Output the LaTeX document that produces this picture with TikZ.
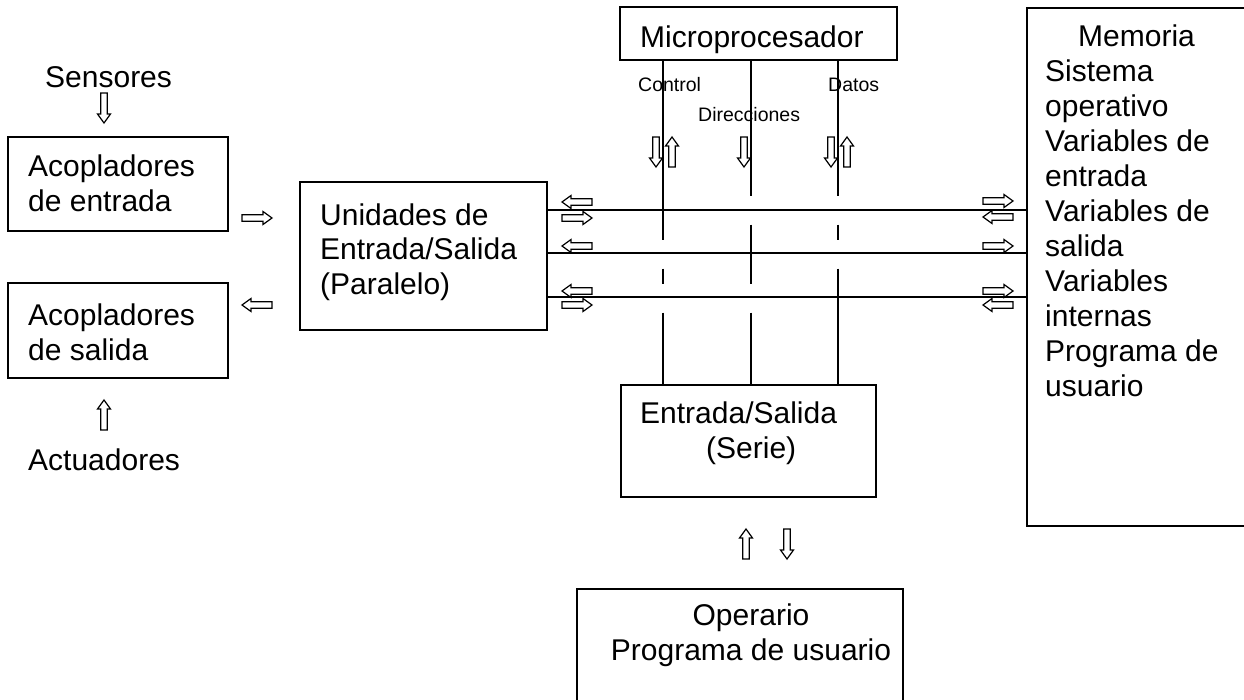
\documentclass[tikz,border=0pt]{standalone}
\usepackage{fontspec}
\setmainfont{Liberation Sans}
\begin{document}
\begin{tikzpicture}[x=1pt,y=-1pt,
  box/.style={draw, line width=1.5pt, inner sep=0pt},
  txt/.style={inner sep=0pt, align=left, anchor=base west, font=\fontsize{30}{35}\selectfont},
  small/.style={inner sep=0pt, anchor=base west, font=\fontsize{19.5}{22}\selectfont},
  bus/.style={line width=1.5pt},
  hol/.style={draw, line width=1.2pt, line join=miter},
  aright/.pic={\draw[hol] (-15,-3.3) -- (6,-3.3) -- (6,-6.5) -- (15,0) -- (6,6.5) -- (6,3.3) -- (-15,3.3) -- cycle;},
  aleft/.pic={\draw[hol] (15,-3.3) -- (-6,-3.3) -- (-6,-6.5) -- (-15,0) -- (-6,6.5) -- (-6,3.3) -- (15,3.3) -- cycle;},
  adown/.pic={\draw[hol] (-3.3,-15) -- (-3.3,6) -- (-6.5,6) -- (0,15) -- (6.5,6) -- (3.3,6) -- (3.3,-15) -- cycle;},
  aup/.pic={\draw[hol] (-3.3,15) -- (-3.3,-6) -- (-6.5,-6) -- (0,-15) -- (6.5,-6) -- (3.3,-6) -- (3.3,15) -- cycle;}
]
\clip (0,0) rectangle (1244,700);
\fill[white] (0,0) rectangle (1244,700);

% boxes
\node[box, minimum width=220pt, minimum height=94pt] (acin) at (118,184) {};
\node[box, minimum width=220pt, minimum height=95pt] (acout) at (118,330.5) {};
\node[box, minimum width=247pt, minimum height=148pt] (unid) at (423.5,256) {};
\node[box, minimum width=277pt, minimum height=53pt] (micro) at (758.5,33.5) {};
\node[box, minimum width=243pt, minimum height=518pt] (mem) at (1148.5,267) {};
\node[box, minimum width=255pt, minimum height=112pt] (serie) at (748.5,441) {};
\node[box, minimum width=326pt, minimum height=131pt] (oper) at (740,654.5) {};

% texts (anchor = baseline of last line)
\node[txt] (tsens) at (45,88) {Sensores};
\node[txt] (tacin) at (28,212) {Acopladores\\de entrada};
\node[txt] (tacout) at (28,360) {Acopladores\\de salida};
\node[txt] (tact) at (28,470) {Actuadores};
\node[txt] (tunid) at (320,295) {Unidades de\\Entrada/Salida\\(Paralelo)};
\node[txt] (tmicro) at (640,48) {Microprocesador};
\node[txt] (tmem) at (1045,396) {\hspace*{33pt}Memoria\\Sistema\\operativo\\Variables de\\entrada\\Variables de\\salida\\Variables\\internas\\Programa de\\usuario};
\node[txt] (tserie) at (640,458) {Entrada/Salida\\\hspace*{66pt}(Serie)};
\node[txt, align=center, anchor=base] (toper) at (751,660) {Operario\\Programa de usuario};
\node[small] (tcontrol) at (638,92) {Control};
\node[small] (tdir) at (698,122) {Direcciones};
\node[small] (tdatos) at (828,92) {Datos};

% bus coordinates
\coordinate (bC) at (663,0);
\coordinate (bD) at (751,0);
\coordinate (bT) at (838,0);
\coordinate (h1) at (0,210);
\coordinate (h2) at (0,253);
\coordinate (h3) at (0,297);

% vertical buses with crossing gaps
\draw[bus, dash pattern=on 179pt off 29pt on 15pt off 29pt on 200pt] (micro.south -| bC) -- (serie.north -| bC);
\draw[bus, dash pattern=on 135pt off 29pt on 59pt off 29pt on 200pt] (micro.south -| bD) -- (serie.north -| bD);
\draw[bus, dash pattern=on 135pt off 29pt on 15pt off 29pt on 200pt] (micro.south -| bT) -- (serie.north -| bT);

% horizontal buses
\draw[bus] (unid.east |- h1) -- (mem.west |- h1);
\draw[bus] (unid.east |- h2) -- (mem.west |- h2);
\draw[bus] (unid.east |- h3) -- (mem.west |- h3);

% hollow arrows
\pic (as) at (104,108) {adown};
\pic (aa) at (104,415) {aup};
\pic (ai1) at (257,218) {aright};
\pic (ao1) at (257,305) {aleft};
\pic (u1) at (577,202) {aleft};
\pic (u2) at (577,218) {aright};
\pic (u3) at (577,246) {aleft};
\pic (u4) at (577,291) {aleft};
\pic (u5) at (577,305) {aright};
\pic (m1) at (998,201) {aright};
\pic (m2) at (998,217) {aleft};
\pic (m3) at (998,246) {aright};
\pic (m4) at (998,291) {aright};
\pic (m5) at (998,305) {aleft};
\pic (v1) at (656,152) {adown};
\pic (v2) at (672,152) {aup};
\pic (v3) at (744,152) {adown};
\pic (v4) at (831,152) {adown};
\pic (v5) at (847,152) {aup};
\pic (s1) at (746,544) {aup};
\pic (s2) at (787,544) {adown};
\end{tikzpicture}
\end{document}
